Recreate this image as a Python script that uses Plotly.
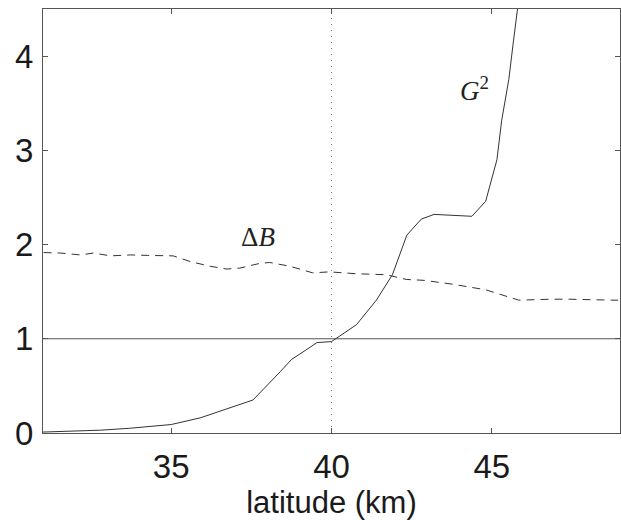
import plotly.graph_objects as go

# G^2 curve (latitude, value)
g2_lat = [31.0, 32.8, 33.7, 35.0, 35.9, 37.55, 38.4, 38.75, 39.2, 39.55, 40.0,
          40.78, 41.4, 41.55, 41.9, 42.35, 42.8, 43.2, 44.38, 44.81, 45.16,
          45.31, 45.53, 45.68, 45.81, 45.95]
g2_val = [0.01, 0.03, 0.05, 0.09, 0.16, 0.35, 0.65, 0.78, 0.88, 0.96, 0.97,
          1.15, 1.41, 1.49, 1.68, 2.10, 2.27, 2.32, 2.30, 2.46, 2.90,
          3.32, 3.75, 4.17, 4.50, 4.90]

# Delta B curve
db_lat = [31.02, 31.55, 32.17, 32.58, 33.1, 33.73, 34.25, 35.06, 35.59, 36.21,
          36.74, 37.14, 37.76, 38.07, 38.7, 39.41, 39.94, 40.78, 41.71, 42.33,
          42.89, 43.76, 44.81, 45.31, 45.84, 46.86, 47.39, 48.73, 48.94]
db_val = [1.915, 1.91, 1.89, 1.91, 1.88, 1.89, 1.885, 1.88, 1.82, 1.77,
          1.74, 1.75, 1.80, 1.81, 1.77, 1.70, 1.71, 1.69, 1.68, 1.63,
          1.62, 1.58, 1.52, 1.47, 1.41, 1.42, 1.42, 1.41, 1.41]

x_ticks = [35, 40, 45]
y_ticks = [0, 1, 2, 3, 4]
x_range = [31.0, 49.0]
y_range = [0, 4.5]
ref_y = 1
ref_x = 40

line_col = "#333333"
axis_col = "#555555"

fig = go.Figure()
fig.add_trace(go.Scatter(x=x_range, y=[ref_y, ref_y], mode="lines",
                         line=dict(color=axis_col, width=1), hoverinfo="skip"))
fig.add_trace(go.Scatter(x=[ref_x, ref_x], y=y_range, mode="lines",
                         line=dict(color="#777777", width=1, dash="1px,5px"), hoverinfo="skip"))
fig.add_trace(go.Scatter(x=db_lat, y=db_val, mode="lines",
                         line=dict(color=line_col, width=1, dash="8px,6px")))
fig.add_trace(go.Scatter(x=g2_lat, y=g2_val, mode="lines",
                         line=dict(color=line_col, width=1)))

fig.add_annotation(x=44.45, y=3.65, text="<i>G</i><sup>2</sup>", showarrow=False,
                   font=dict(family="Liberation Serif", size=27, color="#222222"))
fig.add_annotation(x=37.7, y=2.08, text="Δ<i>B</i>", showarrow=False,
                   font=dict(family="Liberation Serif", size=27, color="#222222"))

axis_common = dict(showgrid=False, zeroline=False, showline=True, linecolor=axis_col,
                   linewidth=1, mirror="ticks", ticks="inside", ticklen=5,
                   tickcolor=axis_col, tickwidth=1,
                   tickfont=dict(family="Liberation Sans", size=33, color="#1a1a1a"))

fig.update_xaxes(range=x_range, tickvals=x_ticks, ticktext=[str(v) for v in x_ticks],
                 title=dict(text="latitude (km)", standoff=9,
                            font=dict(family="Liberation Sans", size=31, color="#1a1a1a")),
                 ticklabelstandoff=4, **axis_common)
fig.update_yaxes(range=y_range, tickvals=y_ticks, ticktext=[str(v) for v in y_ticks],
                 ticklabelstandoff=2, **axis_common)

fig.update_layout(width=621, height=520, showlegend=False,
                  margin=dict(l=43, r=1, t=9, b=87),
                  paper_bgcolor="white", plot_bgcolor="white")

fig.write_html("out.html")
